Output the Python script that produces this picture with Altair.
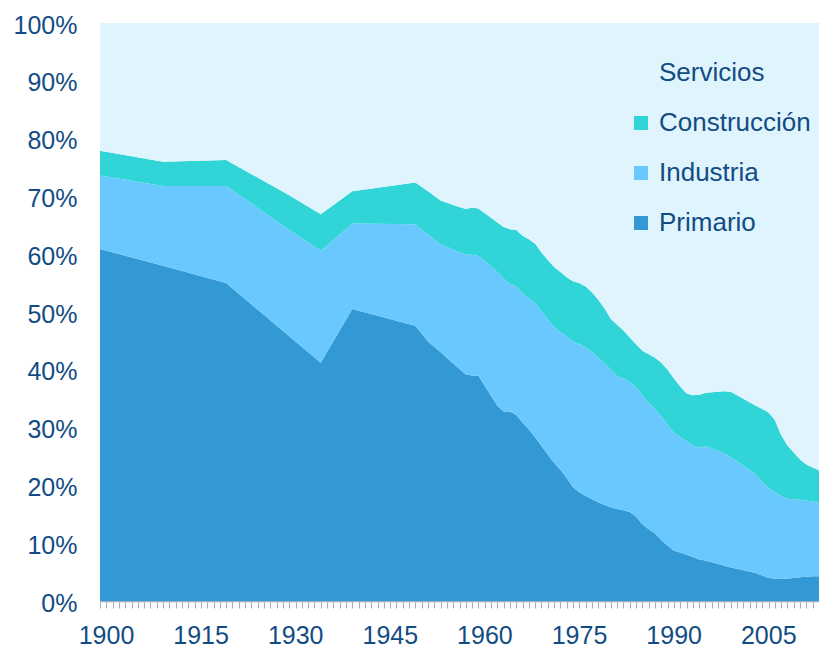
import altair as alt
import pandas as pd

years = [1900, 1910, 1920, 1930, 1935, 1940, 1950, 1952, 1954, 1956, 1958, 1959] + list(range(1960, 2015))

primario = [60.9, 58.0, 55.0, 45.8, 41.2, 50.5, 47.6, 44.9, 43.1, 41.1, 39.2, 39.0,
            39.0, 37.2, 35.5, 33.8, 32.8, 32.8, 32.2, 30.9, 29.7, 28.3,
            26.8, 25.3, 23.9, 22.7, 21.3, 19.7, 18.8, 18.2, 17.6, 17.1,
            16.6, 16.2, 15.9, 15.7, 15.4, 14.6, 13.3, 12.4, 11.7, 10.5,
            9.6, 8.7, 8.4, 8.0, 7.6, 7.2, 7.0, 6.7, 6.4, 6.1,
            5.8, 5.6, 5.3, 5.1, 4.8, 4.4, 4.0, 3.9, 3.8, 3.9,
            4.0, 4.1, 4.2, 4.3, 4.3]

industria = [12.7, 13.8, 16.8, 18.4, 19.4, 14.8, 17.6, 18.5, 18.6, 19.7, 20.7, 20.9,
             20.7, 21.7, 22.4, 23.1, 23.0, 22.0, 22.2, 22.3, 22.7, 23.2,
             23.3, 23.4, 23.5, 23.9, 24.4, 25.2, 25.6, 25.7, 25.5, 25.0,
             24.5, 23.8, 23.0, 22.8, 22.5, 22.4, 22.2, 21.9, 21.5, 21.4,
             20.9, 20.4, 20.0, 19.6, 19.3, 19.3, 19.8, 19.7, 19.6, 19.4,
             19.1, 18.6, 18.1, 17.5, 17.1, 16.2, 15.5, 14.9, 14.4, 13.8,
             13.6, 13.4, 13.2, 12.9, 12.7]

construccion = [4.3, 4.2, 4.5, 6.0, 6.3, 5.6, 7.2, 7.5, 7.6, 7.7, 7.9, 8.2,
                8.2, 8.2, 8.4, 8.6, 8.9, 9.5, 9.8, 10.0, 10.2, 10.3,
                10.2, 10.3, 10.4, 10.3, 10.3, 10.4, 10.6, 10.5, 10.3, 10.0,
                9.5, 8.8, 8.9, 8.3, 7.7, 7.4, 7.8, 8.4, 8.9, 9.3,
                9.5, 9.4, 8.7, 8.3, 8.7, 9.2, 9.2, 9.7, 10.2, 10.8,
                11.3, 11.4, 11.6, 11.8, 11.9, 12.6, 13.1, 12.5, 10.5, 9.2,
                8.1, 7.0, 6.2, 5.9, 5.6]

servicios = [22.1, 24.0, 23.7, 29.8, 33.1, 29.1, 27.6, 29.1, 30.7, 31.5, 32.2, 31.9,
             32.1, 32.9, 33.7, 34.5, 35.3, 35.7, 35.8, 36.8, 37.4, 38.2,
             39.7, 41.0, 42.2, 43.1, 44.0, 44.7, 45.0, 45.6, 46.6, 47.9,
             49.4, 51.2, 52.2, 53.2, 54.4, 55.6, 56.7, 57.3, 57.9, 58.8,
             60.0, 61.5, 62.9, 64.1, 64.4, 64.3, 64.0, 63.9, 63.8, 63.7,
             63.8, 64.4, 65.0, 65.6, 66.2, 66.8, 67.4, 68.7, 71.3, 73.1,
             74.3, 75.5, 76.4, 76.9, 77.4]

sectores = ["Servicios", "Construcción", "Industria", "Primario"]
colores = ["#E0F4FD", "#31D5D8", "#69C9FF", "#3399D4"]
series = {"Primario": primario, "Industria": industria,
          "Construcción": construccion, "Servicios": servicios}
orden = {"Primario": 0, "Industria": 1, "Construcción": 2, "Servicios": 3}

rows = []
for name, vals in series.items():
    for y, v in zip(years, vals):
        rows.append({"anio": y, "sector": name, "valor": v, "orden": orden[name]})
df = pd.DataFrame(rows)

text_color = "#124C84"
font = "Liberation Sans"
tick_years = list(range(1900, 2015))

chart = alt.Chart(df).mark_area(interpolate="linear").encode(
    x=alt.X("anio:Q",
            scale=alt.Scale(domain=[1900, 2014], nice=False, zero=False),
            axis=alt.Axis(title=None, values=tick_years,
                          labelExpr="(datum.value - 1900) % 15 == 0 ? datum.value : ''",
                          labelOverlap=False, labelFontSize=25, labelFont=font,
                          labelColor=text_color, labelPadding=15, labelOffset=6,
                          tickSize=7, tickColor="#A7ABC2", domainColor="#A7ABC2",
                          tickWidth=1, domainWidth=1.5, grid=False, labelFlush=False)),
    y=alt.Y("valor:Q", stack="zero",
            scale=alt.Scale(domain=[0, 100], nice=False),
            axis=alt.Axis(title=None, values=list(range(0, 101, 10)),
                          labelExpr="datum.value + '%'", labelFontSize=25,
                          labelFont=font, labelColor=text_color, ticks=False,
                          domain=False, grid=False, labelPadding=23, labelOffset=2)),
    color=alt.Color("sector:N",
                    scale=alt.Scale(domain=sectores, range=colores),
                    legend=alt.Legend(title=None, orient="none", legendX=528, legendY=37,
                                      symbolType="square", symbolSize=196,
                                      symbolStrokeWidth=0, labelFontSize=26,
                                      labelFont=font, labelColor=text_color,
                                      labelOffset=5, rowPadding=24)),
    order=alt.Order("orden:Q", sort="ascending"),
).properties(
    width=719, height=578,
    autosize=alt.AutoSizeParams(type="none"),
    padding={"left": 92, "top": 15, "right": 0, "bottom": 56},
).configure_view(stroke=None)

chart.save("out.html", embed_options={"renderer": "svg", "actions": False})
